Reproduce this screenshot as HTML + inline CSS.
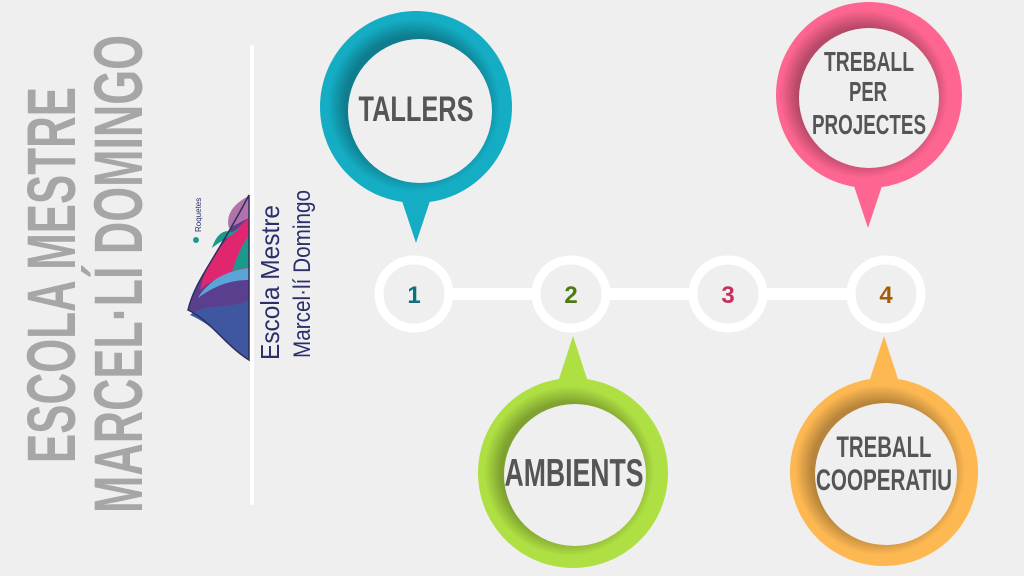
<!DOCTYPE html>
<html><head><meta charset="utf-8"><style>
html,body{margin:0;padding:0;background:#efefef;}
svg{display:block}
</style></head><body>
<svg width="1024" height="576" viewBox="0 0 1024 576" xmlns="http://www.w3.org/2000/svg">
<defs>
<radialGradient id="sh" cx="0.5" cy="0.5" r="0.5">
<stop offset="0.8" stop-color="#000" stop-opacity="0.28"/>
<stop offset="1" stop-color="#000" stop-opacity="0"/>
</radialGradient>
</defs>
<rect width="1024" height="576" fill="#efefef"/>
<g font-family="'Liberation Sans',sans-serif" font-weight="bold" fill="#a6a6a6">
<text transform="translate(75,463) rotate(-90)" font-size="69" textLength="376" lengthAdjust="spacingAndGlyphs">ESCOLA MESTRE</text>
<text transform="translate(142,513) rotate(-90)" font-size="69" textLength="478" lengthAdjust="spacingAndGlyphs">MARCEL·LÍ DOMINGO</text>
</g>
<rect x="250" y="45" width="4" height="460" rx="2" fill="#fff"/>
<g>
<path d="M249,195 L249,360 C225,345 210,320 188,310 C195,280 215,260 249,195 Z" fill="#5a3f8f"/>
<path d="M249,300 L249,360 C228,345 214,325 190,315 C205,302 230,310 249,300 Z" fill="#3f56a0"/>
<path d="M249,262 L249,280 C232,280 215,285 198,298 C205,285 225,270 249,262 Z" fill="#5aa4d8"/>
<path d="M249,218 L249,268 C230,270 215,278 200,290 C205,265 222,240 249,218 Z" fill="#e0266f"/>
<path d="M232,232 C222,228 215,238 212,248 C222,240 234,235 240,228 Z" fill="#1b9a8a"/>
<path d="M249,196 L249,218 C240,222 234,226 229,228 C226,218 230,205 249,196 Z" fill="#b074aa"/>
<path d="M249,235 L249,268 C240,268 236,270 232,272 C236,258 242,245 249,235 Z" fill="#1b9a8a"/>
<path d="M249,195 L249,360 C225,345 210,320 188,310 C195,280 215,260 249,195" fill="none" stroke="#2c2f5e" stroke-width="1.5"/>
<text transform="translate(201,232) rotate(-90)" font-family="'Liberation Sans',sans-serif" font-size="8" fill="#2c2f6a">Roquetes</text>
<circle cx="196" cy="240" r="3" fill="#1b9a8a"/>
<g font-family="'Liberation Sans',sans-serif" fill="#2c2f6a">
<text transform="translate(279,360) rotate(-90)" font-size="26" textLength="155" lengthAdjust="spacingAndGlyphs">Escola Mestre</text>
<text transform="translate(310,358) rotate(-90)" font-size="24" textLength="168" lengthAdjust="spacingAndGlyphs">Marcel·lí Domingo</text>
</g>
</g>
<rect x="414" y="288" width="472" height="12" fill="#fff"/>
<g fill="#efefef" stroke="#fff" stroke-width="9">
<ellipse cx="414" cy="294" rx="35" ry="34"/>
<ellipse cx="571" cy="294" rx="35" ry="34"/>
<ellipse cx="728" cy="294" rx="35" ry="34"/>
<ellipse cx="886" cy="294" rx="35" ry="34"/>
</g>
<g font-family="'Liberation Sans',sans-serif" font-weight="bold" font-size="24" text-anchor="middle">
<text x="414" y="303" fill="#0f6f7c">1</text>
<text x="571" y="303" fill="#4f7a12">2</text>
<text x="728" y="303" fill="#c8305a">3</text>
<text x="886" y="303" fill="#a55c06">4</text>
</g>
<g>
<path d="M400,195 L416,243 L432,195 Z" fill="#14adc4"/>
<circle cx="416" cy="107" r="96" fill="#14adc4"/>
<circle cx="414" cy="105" r="86" fill="url(#sh)"/>
<circle cx="420" cy="111" r="72" fill="#efefef"/>

<path d="M852,180 L868,228 L884,180 Z" fill="#fe6590"/>
<circle cx="869" cy="95" r="93" fill="#fe6590"/>
<circle cx="864" cy="94" r="84" fill="url(#sh)"/>
<circle cx="869" cy="98" r="70" fill="#efefef"/>

<path d="M557,385 L573,336 L589,385 Z" fill="#afe043"/>
<circle cx="573" cy="473" r="95" fill="#afe043"/>
<circle cx="569" cy="471" r="85" fill="url(#sh)"/>
<circle cx="575" cy="475" r="71" fill="#efefef"/>

<path d="M868,385 L884,336 L900,385 Z" fill="#feb852"/>
<circle cx="884" cy="472" r="94" fill="#feb852"/>
<circle cx="880" cy="470" r="85" fill="url(#sh)"/>
<circle cx="886" cy="474" r="71" fill="#efefef"/>
</g>
<g font-family="'Liberation Sans',sans-serif" font-weight="bold" fill="#555" text-anchor="middle">
<text x="416" y="121" font-size="35" textLength="115" lengthAdjust="spacingAndGlyphs">TALLERS</text>
<text x="869" y="71" font-size="28" textLength="90" lengthAdjust="spacingAndGlyphs">TREBALL</text>
<text x="868" y="101" font-size="28" textLength="38" lengthAdjust="spacingAndGlyphs">PER</text>
<text x="869" y="134" font-size="28" textLength="114" lengthAdjust="spacingAndGlyphs">PROJECTES</text>
<text x="574" y="486" font-size="39" textLength="139" lengthAdjust="spacingAndGlyphs">AMBIENTS</text>
<text x="884" y="457" font-size="30" textLength="95" lengthAdjust="spacingAndGlyphs">TREBALL</text>
<text x="884" y="490" font-size="30" textLength="136" lengthAdjust="spacingAndGlyphs">COOPERATIU</text>
</g>
</svg>
</body></html>
